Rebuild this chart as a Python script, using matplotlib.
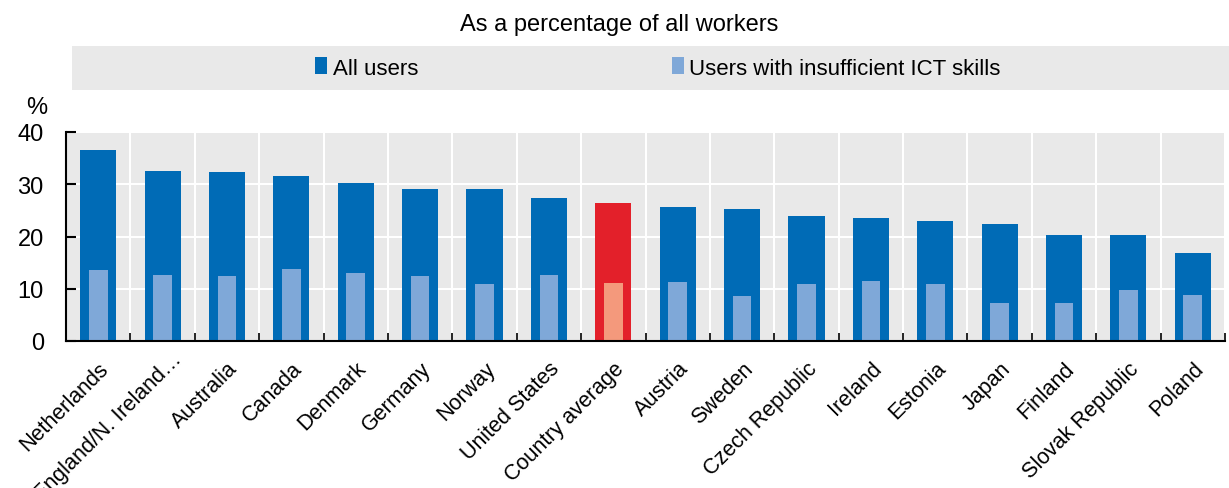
import matplotlib
matplotlib.use("Agg")
import matplotlib.pyplot as plt
from matplotlib.patches import Rectangle, Patch
from matplotlib.transforms import ScaledTranslation
import numpy as np

countries = [
    "Netherlands", "England/N. Ireland\u2026", "Australia", "Canada", "Denmark",
    "Germany", "Norway", "United States", "Country average", "Austria",
    "Sweden", "Czech Republic", "Ireland", "Estonia", "Japan", "Finland",
    "Slovak Republic", "Poland",
]
all_users = [36.6, 32.5, 32.3, 31.6, 30.2, 29.1, 29.1, 27.4, 26.4, 25.6,
             25.3, 23.9, 23.5, 23.0, 22.4, 20.3, 20.3, 16.8]
insufficient = [13.6, 12.6, 12.4, 13.8, 13.0, 12.4, 10.9, 12.6, 11.1, 11.3,
                8.6, 10.9, 11.5, 10.9, 7.3, 7.3, 9.8, 8.8]
highlight = "Country average"

DARK = "#006BB6"
LIGHT = "#7FA8D8"
RED = "#E3202A"
SALMON = "#F4997C"
PANEL = "#E9E9E9"

plt.rcParams["font.family"] = ["Liberation Sans", "DejaVu Sans"]

fig = plt.figure(figsize=(12.29, 4.89), dpi=100)
ax = fig.add_axes([66 / 1229, 1 - 342 / 489, 1159 / 1229, 209 / 489])
ax.set_facecolor(PANEL)

x = np.arange(len(countries))
dark_colors = [RED if c == highlight else DARK for c in countries]
light_colors = [SALMON if c == highlight else LIGHT for c in countries]
ax.bar(x, all_users, width=0.56, color=dark_colors, zorder=3)
ax.bar(x, insufficient, width=0.29, color=light_colors, zorder=4)

ax.set_xlim(-0.5, len(countries) - 0.5)
ax.set_ylim(0, 40)
ax.set_yticks([0, 10, 20, 30, 40])
ax.set_yticklabels(["0", "10", "20", "30", "40"], fontsize=17)
ax.tick_params(axis="y", direction="in", length=7, width=1.5, pad=16)

ax.set_xticks(x)
ax.set_xticklabels(countries, rotation=45, ha="right", rotation_mode="anchor",
                   fontsize=15.5)
ax.tick_params(axis="x", length=0, pad=12)
ax.set_xticks(np.arange(len(countries) + 1) - 0.5, minor=True)
ax.tick_params(axis="x", which="minor", direction="in", length=6, width=1.2)

# the truncated label sits a little higher in the original
long_label = ax.get_xticklabels()[1]
long_label.set_transform(long_label.get_transform()
                         + ScaledTranslation(0.09, 0.09, fig.dpi_scale_trans))

ax.grid(axis="y", color="white", linewidth=1.5, zorder=1)
ax.grid(axis="x", which="minor", color="white", linewidth=1.5, zorder=1)
ax.set_axisbelow(True)
for side in ["top", "right"]:
    ax.spines[side].set_visible(False)
for side in ["left", "bottom"]:
    ax.spines[side].set_linewidth(1.5)
    ax.spines[side].set_zorder(5)

fig.text(37 / 1229, 1 - 108 / 489, "%", fontsize=17, va="center", ha="center")
fig.text(619 / 1229, 1 - 25 / 489, "As a percentage of all workers",
         fontsize=17, ha="center", va="center")

# legend panel
fig.patches.append(Rectangle((72 / 1229, 1 - 91 / 489), 1157 / 1229, 44 / 489,
                             transform=fig.transFigure, facecolor=PANEL,
                             edgecolor="none", zorder=0))
handles = [Patch(facecolor=DARK, label="All users"),
           Patch(facecolor=LIGHT, label="Users with insufficient ICT skills")]
fig.legend(handles=handles, loc="center", bbox_to_anchor=(658 / 1229, 1 - 69 / 489),
           ncol=2, frameon=False, handlelength=0.55, handleheight=0.8,
           handletextpad=0.25, columnspacing=11.4, prop={"size": 16})

fig.savefig("out.png", dpi=100)
